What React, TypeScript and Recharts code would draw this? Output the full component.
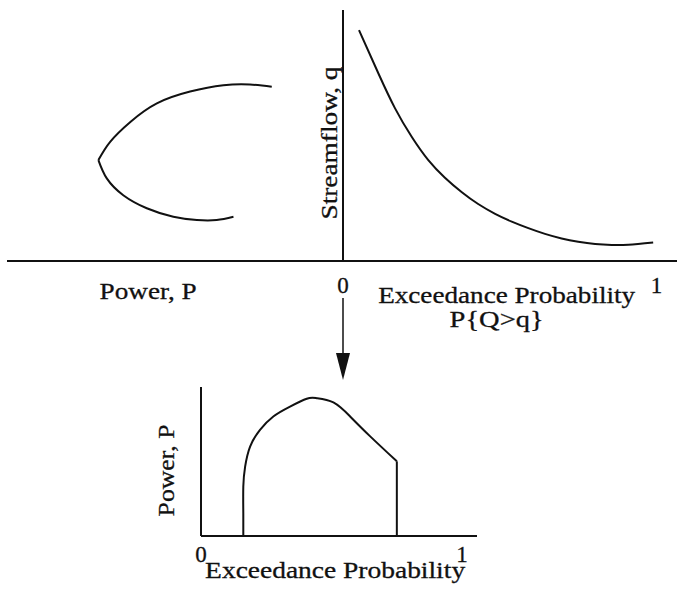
import { LineChart, Line, XAxis, YAxis } from "recharts";

// upper-left quadrant: power vs streamflow (C-shaped curve), split at the left cusp
const upperArcP = [2.12, 2.77, 3.56, 4.55, 5.54, 6.32, 6.93, 7.28];
const upperArcQ = [6.94, 7.03, 7.0, 6.75, 6.28, 5.55, 4.75, 4.02];
const lowerArcP = [7.28, 7.03, 6.54, 5.84, 5.05, 4.35, 3.76, 3.26];
const lowerArcQ = [4.02, 3.29, 2.62, 2.1, 1.76, 1.63, 1.63, 1.76];

// upper-right quadrant: flow duration curve
const flowProb = [0.051, 0.113, 0.166, 0.219, 0.272, 0.325, 0.379, 0.431, 0.485, 0.538, 0.591, 0.644, 0.697, 0.75, 0.804, 0.857, 0.91, 0.989];
const flowQ = [9.2, 7.47, 6.08, 4.95, 4.02, 3.32, 2.74, 2.27, 1.88, 1.57, 1.31, 1.08, 0.9, 0.77, 0.68, 0.64, 0.65, 0.74];

// bottom: power duration curve
const arcProb = [0.162, 0.162, 0.162, 0.169, 0.188, 0.226, 0.277, 0.341, 0.405, 0.443, 0.507, 0.571, 0.648, 0.75];
const arcPower = [0, 1.22, 2.65, 3.72, 4.8, 5.7, 6.42, 6.95, 7.37, 7.4, 7.17, 6.42, 5.35, 4.01];
const dropProb = [0.75, 0.75];
const dropPower = [4.01, 0];

const probTicks = [0, 1];

const FONT = "'Liberation Serif', 'Times New Roman', serif";
const INK = "#111";

const upperData = upperArcP.map((power, i) => ({ power, q: upperArcQ[i] }));
const lowerData = lowerArcP.map((power, i) => ({ power, q: lowerArcQ[i] }));
const flowData = flowProb.map((p, i) => ({ p, q: flowQ[i] }));
const arcData = arcProb.map((p, i) => ({ p, power: arcPower[i] }));
const dropData = dropProb.map((p, i) => ({ p, power: dropPower[i] }));

const textStyle = {
  fontFamily: FONT,
  fontSize: 24,
  fill: INK,
  stroke: INK,
  strokeWidth: 0.3,
};

// horizontal caption placed relative to the axis box
const Caption = (props: any) => {
  const { viewBox, lines } = props;
  return (
    <g>
      {lines.map((l: any) => (
        <text
          key={l.text}
          x={viewBox.x + viewBox.width * l.fx}
          y={viewBox.y + l.dy}
          textAnchor="middle"
          textLength={l.len}
          lengthAdjust="spacingAndGlyphs"
          {...textStyle}
        >
          {l.text}
        </text>
      ))}
    </g>
  );
};

// rotated caption for y axes
const VCaption = (props: any) => {
  const { viewBox, text, dx, fy, len } = props;
  const x = viewBox.x + dx;
  const y = viewBox.y + viewBox.height * fy;
  return (
    <text
      x={x}
      y={y}
      transform={`rotate(-90 ${x} ${y})`}
      textAnchor="middle"
      textLength={len}
      lengthAdjust="spacingAndGlyphs"
      {...textStyle}
    >
      {text}
    </text>
  );
};

const ProbTick = (props: any) => {
  const { x, y, payload, dy } = props;
  return (
    <text x={x} y={y + dy} textAnchor="middle" {...textStyle} fontSize={23}>
      {payload.value}
    </text>
  );
};

const axisLine = { stroke: INK, strokeWidth: 2 };

const curve = {
  stroke: INK,
  strokeWidth: 2,
  dot: false,
  activeDot: false,
  isAnimationActive: false,
} as const;

export default function App() {
  return (
    <div style={{ position: "absolute", left: 0, top: 0, width: 677, height: 589, background: "#fff" }}>
      {/* top left: power vs streamflow */}
      <div style={{ position: "absolute", left: 0, top: 0 }}>
        <LineChart width={343} height={312} margin={{ top: 10, right: 0, left: 7, bottom: 12 }}>
          <XAxis
            type="number"
            dataKey="power"
            domain={[0, 10]}
            reversed
            height={39}
            axisLine={axisLine}
            tick={false}
            tickLine={false}
            label={<Caption lines={[{ text: "Power, P", fx: 0.42, dy: 38, len: 97 }]} />}
          />
          <YAxis type="number" domain={[0, 10]} hide />
          <Line data={upperData} dataKey="q" type="natural" {...curve} />
          <Line data={lowerData} dataKey="q" type="natural" {...curve} />
        </LineChart>
      </div>

      {/* top right: flow duration curve */}
      <div style={{ position: "absolute", left: 283, top: 0 }}>
        <LineChart width={394} height={340} margin={{ top: 10, right: 0, left: 0, bottom: 40 }}>
          <XAxis
            type="number"
            dataKey="p"
            domain={[0, 1.065]}
            ticks={probTicks}
            interval={0}
            height={39}
            axisLine={axisLine}
            tickLine={false}
            tickSize={0}
            tickMargin={0}
            tick={(p: any) => <ProbTick {...p} dy={32} />}
            label={
              <Caption
                lines={[
                  { text: "Exceedance Probability", fx: 0.49, dy: 42, len: 257 },
                  { text: "P{Q>q}", fx: 0.46, dy: 66, len: 94 },
                ]}
              />
            }
          />
          <YAxis
            type="number"
            domain={[0, 10]}
            width={60}
            axisLine={axisLine}
            tick={false}
            tickLine={false}
            label={<VCaption text="Streamflow, q" dx={54} fy={0.53} len={153} />}
          />
          <Line data={flowData} dataKey="q" type="natural" {...curve} />
        </LineChart>
      </div>

      {/* arrow linking the two panels */}
      <svg style={{ position: "absolute", left: 0, top: 0 }} width={677} height={589}>
        <line x1={343} y1={298} x2={343} y2={358} stroke={INK} strokeWidth={1.5} />
        <polygon points="336,353 350,353 343,380" fill={INK} />
      </svg>

      {/* bottom: power duration curve */}
      <div style={{ position: "absolute", left: 141, top: 377 }}>
        <LineChart width={336} height={212} margin={{ top: 10, right: 0, left: 0, bottom: 0 }}>
          <XAxis
            type="number"
            dataKey="p"
            domain={[0, 1.057]}
            ticks={probTicks}
            interval={0}
            height={53}
            axisLine={axisLine}
            tickLine={false}
            tickSize={0}
            tickMargin={0}
            tick={(p: any) => <ProbTick {...p} dy={26} />}
            label={<Caption lines={[{ text: "Exceedance Probability", fx: 0.486, dy: 42, len: 260 }]} />}
          />
          <YAxis
            type="number"
            domain={[0, 8]}
            width={60}
            axisLine={axisLine}
            tick={false}
            tickLine={false}
            label={<VCaption text="Power, P" dx={33} fy={0.56} len={92} />}
          />
          <Line data={arcData} dataKey="power" type="natural" {...curve} />
          <Line data={dropData} dataKey="power" type="linear" {...curve} />
        </LineChart>
      </div>
    </div>
  );
}
